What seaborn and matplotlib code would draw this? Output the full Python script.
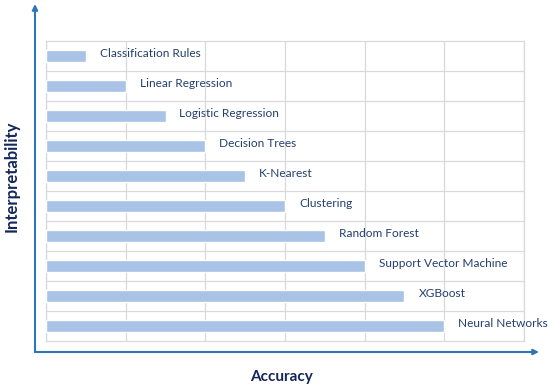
import matplotlib
matplotlib.use("Agg")
import matplotlib.pyplot as plt
import seaborn as sns
import pandas as pd

# data (accuracy scale 0-6)
methods = ["Classification Rules", "Linear Regression", "Logistic Regression",
           "Decision Trees", "K-Nearest", "Clustering", "Random Forest",
           "Support Vector Machine", "XGBoost", "Neural Networks"]
accuracy = [0.5, 1.0, 1.5, 2.0, 2.5, 3.0, 3.5, 4.0, 4.5, 5.0]
x_ticks = [0, 1, 2, 3, 4, 5, 6]

df = pd.DataFrame({"method": methods, "accuracy": accuracy})

sns.set_style("white")
plt.rcParams["font.family"] = ["Lato", "DejaVu Sans"]

fig = plt.figure(figsize=(5.5, 3.89), dpi=100)
ax = fig.add_axes([46 / 550, 48 / 389, 478 / 550, 300 / 389])

bar_col = "#A9C3E6"
grid_col = "#D9D9D9"
text_col = "#243F6E"
axis_col = "#2E75B6"

sns.barplot(data=df, x="accuracy", y="method", orient="h", color=bar_col,
            width=0.38, saturation=1, ax=ax, zorder=3)

ax.set_xlim(x_ticks[0], x_ticks[-1])
ax.set_ylim(len(methods) - 0.5, -0.5)

# grid: vertical at each unit, horizontal between rows
ax.set_xticks(x_ticks)
ax.set_yticks([i + 0.5 for i in range(len(methods) - 1)])
ax.grid(True, color=grid_col, linewidth=0.9, zorder=0)
ax.tick_params(length=0, labelbottom=False, labelleft=False)
for s in ax.spines.values():
    s.set_color(grid_col)
    s.set_linewidth(0.9)
ax.set_xlabel("")
ax.set_ylabel("")

# labels next to bar ends
for i, (m, v) in enumerate(zip(methods, accuracy)):
    ax.annotate(m, xy=(v, i), xytext=(10, 2), textcoords="offset points",
                va="center", ha="left", fontsize=8.6, color=text_col, zorder=4)

# blue axis arrows
ox, oy = 35 / 550, 1 - 352 / 389
arrow = dict(arrowstyle="-|>", color=axis_col, lw=1.5, mutation_scale=8,
             shrinkA=0, shrinkB=0)
fig.add_artist(matplotlib.patches.FancyArrowPatch(
    (ox, oy), (ox, 1 - 4 / 389), transform=fig.transFigure, **arrow))
fig.add_artist(matplotlib.patches.FancyArrowPatch(
    (ox, oy), (539 / 550, oy), transform=fig.transFigure, **arrow))

fig.text(12 / 550, 1 - 176 / 389, "Interpretability", rotation=90,
         ha="center", va="center", fontsize=12, fontweight="bold", color="#14275A")
fig.text(281 / 550, 1 - 377 / 389, "Accuracy", ha="center", va="center",
         fontsize=11, fontweight="bold", color="#14275A")

fig.savefig("out.png", dpi=100)
